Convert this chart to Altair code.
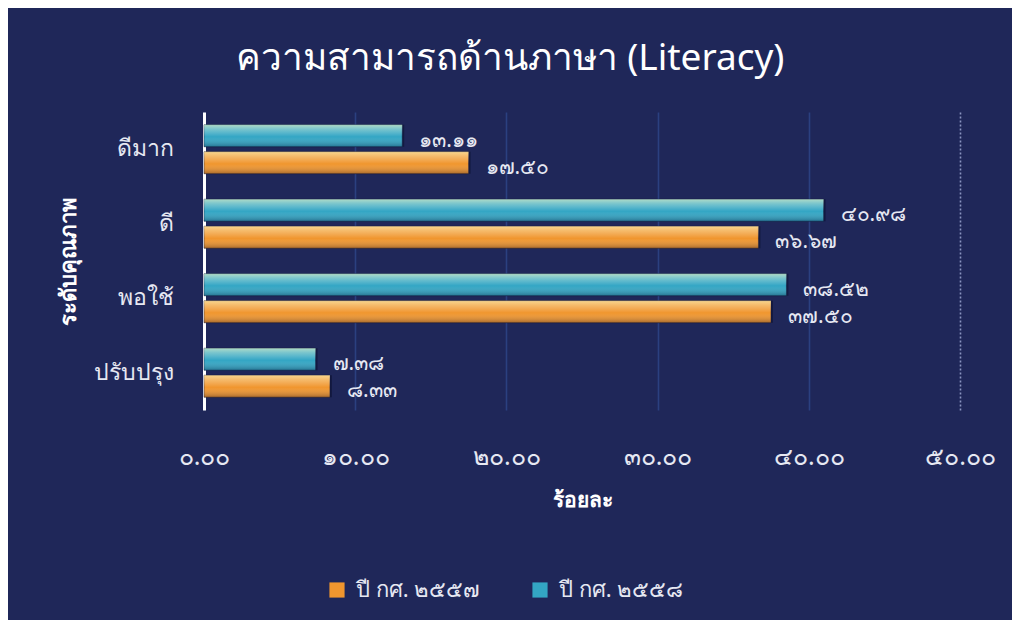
import json
import altair as alt
import pandas as pd

categories = ["ดีมาก", "ดี", "พอใช้", "ปรับปรุง"]
series_names = ["ปี กศ. ๒๕๕๗", "ปี กศ. ๒๕๕๘"]
values_2557 = [17.50, 36.67, 37.50, 8.33]
values_2558 = [13.11, 40.98, 38.52, 7.38]
tick_values = [0, 10, 20, 30, 40, 50]
tick_labels = ["๐.๐๐", "๑๐.๐๐", "๒๐.๐๐", "๓๐.๐๐", "๔๐.๐๐", "๕๐.๐๐"]

thai = str.maketrans("0123456789", "๐๑๒๓๔๕๖๗๘๙")
rows = []
for s, vals in zip(series_names, [values_2557, values_2558]):
    for c, v in zip(categories, vals):
        rows.append({"cat": c, "series": s, "value": v,
                     "label": f"{v:.2f}".translate(thai)})
df = pd.DataFrame(rows)

FONT = "Noto Sans"
TXT = "#e6e8f2"
label_expr = json.dumps(tick_labels, ensure_ascii=False) + "[round(datum.value/10)]"

y = alt.Y("cat:N", sort=categories,
          scale=alt.Scale(paddingInner=0.342, paddingOuter=0.171),
          axis=alt.Axis(title="ระดับคุณภาพ", titleAngle=-90, titleX=-124, titleY=149,
                        titleFontSize=22, titleFontWeight="bold", titleColor="white",
                        titleFont=FONT, labelFont=FONT, labelFontSize=23, labelColor=TXT,
                        labelPadding=31, ticks=False, domain=True, domainColor="white",
                        domainWidth=3, grid=False))
y_plain = alt.Y("cat:N", sort=categories)
yoff = alt.YOffset("series:N", sort=[series_names[1], series_names[0]],
                   scale=alt.Scale(paddingInner=0.185, paddingOuter=0))
x = alt.X("value:Q", scale=alt.Scale(domain=[0, 50], nice=False),
          axis=alt.Axis(values=tick_values, labelExpr=label_expr, title="ร้อยละ",
                        titleFontSize=21, titleFontWeight="bold", titleColor="white",
                        titleFont=FONT, titlePadding=20,
                        labelFont=FONT, labelFontSize=25, labelColor=TXT, labelPadding=34,
                        labelFlush=False, labelOverlap=False,
                        ticks=False, domain=False, grid=True,
                        gridColor={"condition": {"test": "datum.value == 50", "value": "#8a94c0"},
                                   "value": "#2b4080"},
                        gridDash={"condition": {"test": "datum.value == 50", "value": [2, 2]},
                                  "value": []},
                        gridWidth=1.6))

base = alt.Chart(df)

shadow = base.mark_bar(color="#0b1030", opacity=0.55, yOffset=4, y2Offset=4, xOffset=2, x2Offset=2).encode(
    x="value:Q", y=y_plain, yOffset=yoff)

bars = base.mark_bar(stroke="#10163a", strokeWidth=0.5).encode(
    x=x, y=y, yOffset=yoff,
    color=alt.Color("series:N", sort=series_names,
                    scale=alt.Scale(domain=series_names, range=["#f0962e", "#33a6c4"]),
                    legend=alt.Legend(orient="none", legendX=122, legendY=467,
                                      direction="horizontal", title=None,
                                      symbolType="square", symbolSize=230,
                                      symbolStrokeWidth=0,
                                      labelFont=FONT, labelFontSize=22, labelColor=TXT,
                                      columnPadding=48, labelOffset=8)),
)

gloss = base.mark_bar(
    fill=alt.Gradient(gradient="linear", x1=0, y1=0, x2=0, y2=1,
                      stops=[alt.GradientStop(color="rgba(255,255,200,0.6)", offset=0),
                             alt.GradientStop(color="rgba(255,255,220,0.35)", offset=0.2),
                             alt.GradientStop(color="rgba(255,255,255,0.0)", offset=0.55),
                             alt.GradientStop(color="rgba(0,0,30,0.3)", offset=1)])
).encode(x="value:Q", y=y_plain, yOffset=yoff)

text = base.mark_text(align="left", baseline="middle", dx=17, dy=5, font=FONT,
                      fontSize=21, color=TXT).encode(
    x="value:Q", y=y_plain, yOffset=yoff, text="label:N")

chart = alt.layer(shadow, bars, gloss, text).properties(
    width=756, height=298,
    title=alt.TitleParams(text="ความสามารถด้านภาษา (Literacy)", font=FONT, fontSize=37,
                          fontWeight="normal", color="white", anchor="middle",
                          dx=-72, offset=34),
    background="#1f2759",
    autosize=alt.AutoSizeParams(type="none"),
    padding={"left": 196, "top": 104, "right": 52, "bottom": 210},
).configure_view(stroke=None)

chart.save("out.html", embed_options={"renderer": "svg", "actions": False})
